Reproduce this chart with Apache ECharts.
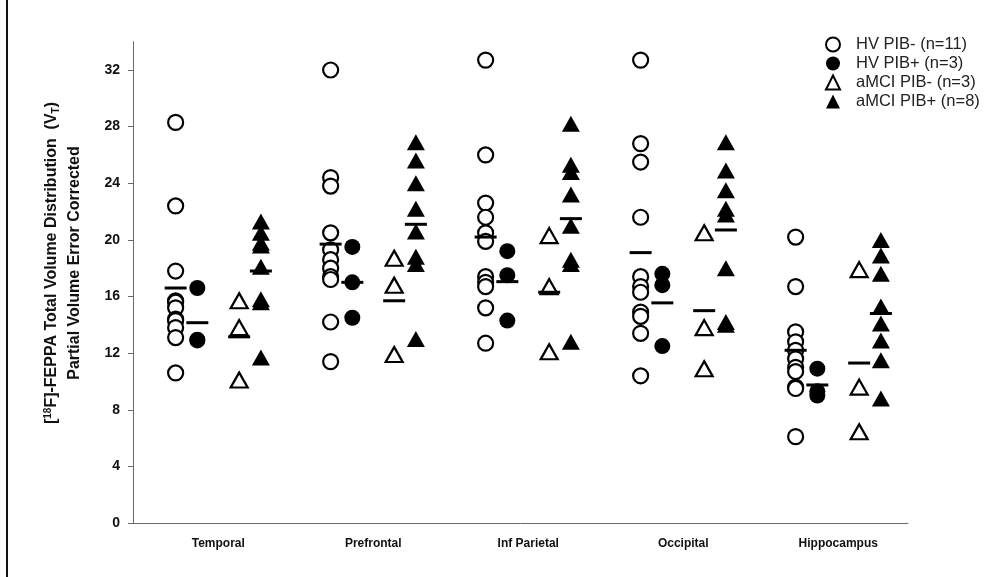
<!DOCTYPE html>
<html>
<head>
<meta charset="utf-8">
<script src="https://cdn.jsdelivr.net/npm/echarts@6/dist/echarts.min.js"></script>
<style>
html,body{margin:0;padding:0;background:#fff;}
#chart{width:1002px;height:577px;}
</style>
</head>
<body>
<div id="chart"></div>
<script>
// ---- data ----
const categories = ['Temporal', 'Prefrontal', 'Inf Parietal', 'Occipital', 'Hippocampus'];
const groupNames = ['HV PIB- (n=11)', 'HV PIB+ (n=3)', 'aMCI PIB- (n=3)', 'aMCI PIB+ (n=8)'];
const yTicks = [0, 4, 8, 12, 16, 20, 24, 28, 32];

const hvNegValues = [
  [28.3, 22.4, 17.8, 15.7, 15.6, 15.2, 14.4, 14.3, 13.8, 13.1, 10.6],
  [32.0, 24.4, 23.8, 20.5, 19.3, 18.6, 18.0, 17.4, 17.2, 14.2, 11.4],
  [32.7, 26.0, 22.6, 21.6, 20.5, 19.9, 17.4, 17.0, 16.7, 15.2, 12.7],
  [32.7, 26.8, 25.5, 21.6, 17.4, 16.7, 16.3, 14.9, 14.6, 13.4, 10.4],
  [20.2, 16.7, 13.5, 12.8, 12.2, 11.6, 11.0, 10.7, 9.6, 9.5, 6.1]
];
const hvPosValues = [
  [16.6, 12.95, 12.9],
  [19.5, 17.0, 14.5],
  [19.2, 17.5, 14.3],
  [17.6, 16.8, 12.5],
  [10.9, 9.3, 9.0]
];
const amciNegValues = [
  [15.7, 13.8, 10.1],
  [18.7, 16.8, 11.9],
  [20.3, 16.7, 12.1],
  [20.5, 13.8, 10.9],
  [17.9, 9.6, 6.45]
];
const amciPosValues = [
  [21.3, 20.5, 19.8, 19.6, 18.1, 15.8, 15.6, 11.7],
  [26.9, 25.6, 24.0, 22.2, 20.6, 18.8, 18.3, 13.0],
  [28.2, 25.3, 24.8, 23.2, 21.0, 18.6, 18.3, 12.8],
  [26.9, 24.9, 23.5, 22.2, 21.8, 18.0, 14.2, 14.0],
  [20.0, 18.9, 17.6, 15.3, 14.1, 12.9, 11.5, 8.8]
];
const hvNegMeans = [16.6, 19.7, 20.2, 19.1, 12.2];
const hvPosMeans = [14.15, 17.0, 17.05, 15.55, 9.75];
const amciNegMeans = [13.15, 15.7, 16.3, 15.0, 11.3];
const amciPosMeans = [17.8, 21.1, 21.5, 20.7, 14.8];

// ---- layout helpers ----
const xOffsets = [0.275, 0.415, 0.685, 0.825];
const labelOffset = 0.55;
function pts(vals, g) {
  const out = [];
  vals.forEach((arr, i) => arr.forEach(v => out.push([i + xOffsets[g], v])));
  return out;
}
function meanPts(vals, g) {
  return vals.map((v, i) => [i + xOffsets[g], v]);
}

const chart = echarts.init(document.getElementById('chart'), null, {renderer: 'canvas'});
const FONT = '"Liberation Sans", Arial, sans-serif';

const markerStyles = [
  {symbol: 'circle', symbolSize: 15, itemStyle: {color: '#fff', borderColor: '#000', borderWidth: 2.2, opacity: 1}},
  {symbol: 'circle', symbolSize: 16, itemStyle: {color: '#000', borderColor: '#000', borderWidth: 0, opacity: 1}},
  {symbol: 'triangle', symbolSize: [17, 15], itemStyle: {color: '#fff', borderColor: '#000', borderWidth: 2.2, opacity: 1}},
  {symbol: 'triangle', symbolSize: [18, 16], itemStyle: {color: '#000', borderColor: '#000', borderWidth: 0, opacity: 1}}
];
const allValues = [hvNegValues, hvPosValues, amciNegValues, amciPosValues];
const allMeans = [hvNegMeans, hvPosMeans, amciNegMeans, amciPosMeans];

const series = [];
allValues.forEach((vals, g) => {
  series.push(Object.assign({
    name: groupNames[g],
    type: 'scatter',
    data: pts(vals, g),
    emphasis: {disabled: true},
    z: 2
  }, markerStyles[g]));
});
allMeans.forEach((vals, g) => {
  series.push({
    name: 'mean' + g,
    type: 'scatter',
    symbol: 'rect',
    symbolSize: [22, 3],
    itemStyle: {color: '#000', opacity: 1},
    data: meanPts(vals, g),
    emphasis: {disabled: true},
    z: 3
  });
});

chart.setOption({
  animation: false,
  backgroundColor: '#fff',
  grid: {left: 133, right: 94, top: 41.7, bottom: 54, containLabel: false},
  xAxis: {
    type: 'value',
    min: 0, max: 5,
    splitLine: {show: false},
    axisLine: {show: true, lineStyle: {color: '#6a6a6a', width: 1}},
    axisTick: {show: false},
    axisLabel: {
      customValues: categories.map((c, i) => i + labelOffset),
      formatter: v => categories[Math.round(v - labelOffset)] || '',
      margin: 15,
      color: '#111', fontWeight: 'bold', fontSize: 12, fontFamily: FONT
    }
  },
  yAxis: {
    type: 'value',
    min: 0, max: 34, interval: 2,
    splitLine: {show: false},
    axisLine: {show: true, lineStyle: {color: '#6a6a6a', width: 1}},
    axisTick: {show: true, customValues: yTicks, length: 5, lineStyle: {color: '#6a6a6a'}},
    axisLabel: {
      customValues: yTicks,
      margin: 13,
      color: '#111', fontWeight: 'bold', fontSize: 14, fontFamily: FONT
    }
  },
  legend: {
    data: groupNames,
    orient: 'vertical',
    left: 820, top: 31,
    itemWidth: 14, itemHeight: 14, itemGap: 2,
    textStyle: {color: '#222', fontSize: 16.5, fontFamily: FONT, padding: [0, 0, 0, 11]},
    selectedMode: false
  },
  graphic: [
    {type: 'line', shape: {x1: 7, y1: 0, x2: 7, y2: 577}, style: {stroke: '#111', lineWidth: 2}},
    {
      type: 'text', x: 52, y: 263, rotation: Math.PI / 2,
      style: {
        text: '[{sup|18}F]-FEPPA Total Volume Distribution  (V{sub|T})',
        fill: '#111', font: 'bold 16px ' + FONT,
        align: 'center', verticalAlign: 'middle',
        rich: {
          sup: {fontSize: 10, fontWeight: 'bold', fontFamily: FONT, fill: '#111', verticalAlign: 'top', lineHeight: 18},
          sub: {fontSize: 10, fontWeight: 'bold', fontFamily: FONT, fill: '#111', verticalAlign: 'bottom', lineHeight: 18}
        }
      }
    },
    {
      type: 'text', x: 75, y: 263, rotation: Math.PI / 2,
      style: {
        text: 'Partial Volume Error Corrected',
        fill: '#111', font: 'bold 16px ' + FONT,
        align: 'center', verticalAlign: 'middle'
      }
    }
  ],
  series: series
});
</script>
</body>
</html>
